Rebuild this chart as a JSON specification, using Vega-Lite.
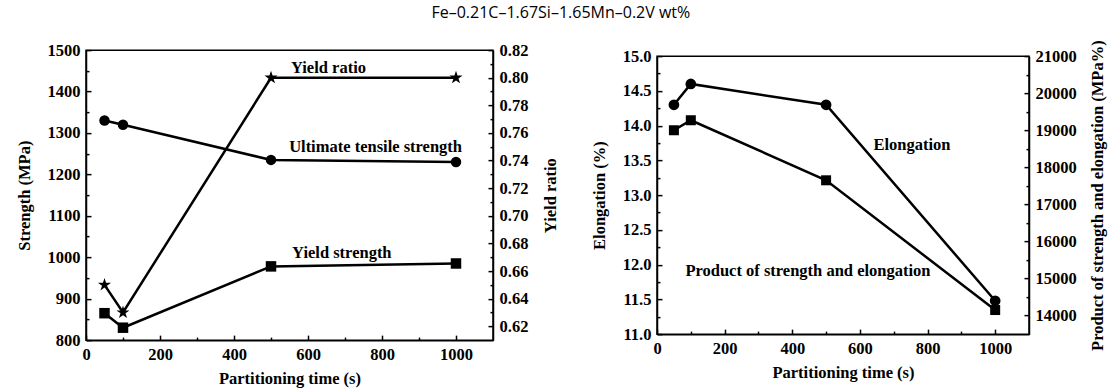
{
  "$schema": "https://vega.github.io/schema/vega-lite/v6.json",
  "title": {"text": "Fe–0.21C–1.67Si–1.65Mn–0.2V wt%", "font": "Open Sans", "fontSize": 16, "fontWeight": "normal", "color": "black", "anchor": "middle", "offset": 18},
  "padding": {"left": 15, "top": 5, "right": 2, "bottom": 0},
  "background": "white",
  "config": {
    "view": {"stroke": "black", "strokeWidth": 1.5},
    "axis": {
      "grid": false,
      "labelFont": "Liberation Serif", "labelFontWeight": "bold", "labelFontSize": 16.5, "labelColor": "black",
      "titleFont": "Liberation Serif", "titleFontWeight": "bold", "titleFontSize": 16.5, "titleColor": "black",
      "domainColor": "black", "domainWidth": 1.5, "tickColor": "black", "tickWidth": 1.5,
      "tickSize": -5, "labelPadding": 11, "labelFlush": false, "labelOverlap": false
    }
  },
  "datasets": {
    "strength": [
      {"time": 50, "value": 1330, "series": "Ultimate tensile strength"},
      {"time": 100, "value": 1320, "series": "Ultimate tensile strength"},
      {"time": 500, "value": 1235, "series": "Ultimate tensile strength"},
      {"time": 1000, "value": 1230, "series": "Ultimate tensile strength"},
      {"time": 50, "value": 865, "series": "Yield strength"},
      {"time": 100, "value": 830, "series": "Yield strength"},
      {"time": 500, "value": 978, "series": "Yield strength"},
      {"time": 1000, "value": 985, "series": "Yield strength"}
    ],
    "ratio": [
      {"time": 50, "ratio": 0.650},
      {"time": 100, "ratio": 0.630},
      {"time": 500, "ratio": 0.800},
      {"time": 1000, "ratio": 0.800}
    ],
    "labelsL": [
      {"x": 554, "y": 1457, "label": "Yield ratio"},
      {"x": 549, "y": 1267, "label": "Ultimate tensile strength"},
      {"x": 557, "y": 1011, "label": "Yield strength"}
    ],
    "elong": [
      {"time": 50, "elong": 14.3},
      {"time": 100, "elong": 14.6},
      {"time": 500, "elong": 14.3},
      {"time": 1000, "elong": 11.48}
    ],
    "pse": [
      {"time": 50, "pse": 19000},
      {"time": 100, "pse": 19270},
      {"time": 500, "pse": 17650},
      {"time": 1000, "pse": 14150}
    ],
    "labelsR": [
      {"x": 640, "y": 13.72, "label": "Elongation"},
      {"x": 84, "y": 11.91, "label": "Product of strength and elongation"}
    ]
  },
  "hconcat": [
    {
      "width": 407,
      "height": 290,
      "layer": [
        {
          "layer": [
            {
              "data": {"name": "strength"},
              "mark": {"type": "line", "color": "black", "strokeWidth": 2.5},
              "encoding": {
                "x": {"field": "time", "type": "quantitative", "scale": {"domain": [0, 1100], "nice": false, "zero": false}, "axis": {"orient": "bottom", "values": [0, 200, 400, 600, 800, 1000], "title": "Partitioning time (s)", "titlePadding": 8, "format": "d"}},
                "y": {"field": "value", "type": "quantitative", "scale": {"domain": [800, 1500], "nice": false, "zero": false}, "axis": {"orient": "left", "values": [800, 900, 1000, 1100, 1200, 1300, 1400, 1500], "title": "Strength (MPa)", "format": "d", "titlePadding": 15}},
                "detail": {"field": "series"}
              }
            },
            {
              "data": {"name": "strength"},
              "mark": {"type": "point", "filled": true, "color": "black", "opacity": 1},
              "encoding": {
                "x": {"field": "time", "type": "quantitative", "axis": {"orient": "bottom", "values": [0, 200, 400, 600, 800, 1000], "title": "Partitioning time (s)", "titlePadding": 8, "format": "d"}},
                "y": {"field": "value", "type": "quantitative", "axis": {"orient": "left", "values": [850, 950, 1050, 1150, 1250, 1350, 1450], "labels": false, "title": null, "domain": false, "tickSize": -3}},
                "shape": {"field": "series", "type": "nominal", "scale": {"domain": ["Ultimate tensile strength", "Yield strength"], "range": ["circle", "square"]}, "legend": null},
                "size": {"value": 110}
              }
            },
            {
              "data": {"name": "labelsL"},
              "mark": {"type": "text", "align": "left", "baseline": "middle", "font": "Liberation Serif", "fontWeight": "bold", "fontSize": 16.5, "color": "black"},
              "encoding": {
                "x": {"field": "x", "type": "quantitative", "axis": {"orient": "bottom", "values": [0, 200, 400, 600, 800, 1000], "title": "Partitioning time (s)", "titlePadding": 8, "format": "d"}},
                "y": {"field": "y", "type": "quantitative", "axis": null},
                "text": {"field": "label"}
              }
            }
          ],
          "resolve": {"axis": {"y": "independent"}}
        },
        {
          "layer": [
            {
              "data": {"name": "ratio"},
              "mark": {"type": "line", "color": "black", "strokeWidth": 2.5},
              "encoding": {
                "x": {"field": "time", "type": "quantitative", "axis": {"orient": "bottom", "values": [100, 300, 500, 700, 900], "labels": false, "title": null, "domain": false, "tickSize": -3}},
                "y": {"field": "ratio", "type": "quantitative", "scale": {"domain": [0.61, 0.82], "nice": false, "zero": false}, "axis": {"orient": "right", "values": [0.62, 0.64, 0.66, 0.68, 0.70, 0.72, 0.74, 0.76, 0.78, 0.80, 0.82], "title": "Yield ratio", "titleAngle": 270, "titleBaseline": "top", "format": ".2f", "titlePadding": 15}}
              }
            },
            {
              "data": {"name": "ratio"},
              "mark": {"type": "point", "filled": true, "color": "black", "opacity": 1, "shape": "M0,-1L0.2245,-0.309L0.951,-0.309L0.363,0.118L0.588,0.809L0,0.382L-0.588,0.809L-0.363,0.118L-0.951,-0.309L-0.2245,-0.309Z"},
              "encoding": {
                "x": {"field": "time", "type": "quantitative", "axis": {"orient": "bottom", "values": [100, 300, 500, 700, 900], "labels": false, "title": null, "domain": false, "tickSize": -3}},
                "y": {"field": "ratio", "type": "quantitative", "axis": {"orient": "right", "values": [0.63, 0.65, 0.67, 0.69, 0.71, 0.73, 0.75, 0.77, 0.79, 0.81], "labels": false, "title": null, "domain": false, "tickSize": -3}},
                "size": {"value": 190}
              }
            }
          ],
          "resolve": {"axis": {"y": "independent"}}
        }
      ],
      "resolve": {"scale": {"y": "independent"}, "axis": {"x": "independent"}}
    },
    {
      "width": 372,
      "height": 278,
      "layer": [
        {
          "layer": [
            {
              "data": {"name": "elong"},
              "mark": {"type": "line", "color": "black", "strokeWidth": 2.5},
              "encoding": {
                "x": {"field": "time", "type": "quantitative", "scale": {"domain": [0, 1100], "nice": false, "zero": false}, "axis": {"orient": "bottom", "values": [0, 200, 400, 600, 800, 1000], "title": "Partitioning time (s)", "titlePadding": 8, "format": "d"}},
                "y": {"field": "elong", "type": "quantitative", "scale": {"domain": [11, 15], "nice": false, "zero": false}, "axis": {"orient": "left", "values": [11, 11.5, 12, 12.5, 13, 13.5, 14, 14.5, 15], "title": "Elongation (%)", "format": ".1f", "titlePadding": 15}}
              }
            },
            {
              "data": {"name": "elong"},
              "mark": {"type": "point", "filled": true, "color": "black", "opacity": 1, "shape": "circle"},
              "encoding": {
                "x": {"field": "time", "type": "quantitative", "axis": {"orient": "bottom", "values": [0, 200, 400, 600, 800, 1000], "title": "Partitioning time (s)", "titlePadding": 8, "format": "d"}},
                "y": {"field": "elong", "type": "quantitative", "axis": {"orient": "left", "values": [11.25, 11.75, 12.25, 12.75, 13.25, 13.75, 14.25, 14.75], "labels": false, "title": null, "domain": false, "tickSize": -3}},
                "size": {"value": 115}
              }
            },
            {
              "data": {"name": "labelsR"},
              "mark": {"type": "text", "align": "left", "baseline": "middle", "font": "Liberation Serif", "fontWeight": "bold", "fontSize": 16.5, "color": "black"},
              "encoding": {
                "x": {"field": "x", "type": "quantitative", "axis": {"orient": "bottom", "values": [0, 200, 400, 600, 800, 1000], "title": "Partitioning time (s)", "titlePadding": 8, "format": "d"}},
                "y": {"field": "y", "type": "quantitative", "axis": null},
                "text": {"field": "label"}
              }
            }
          ],
          "resolve": {"axis": {"y": "independent"}}
        },
        {
          "layer": [
            {
              "data": {"name": "pse"},
              "mark": {"type": "line", "color": "black", "strokeWidth": 2.5},
              "encoding": {
                "x": {"field": "time", "type": "quantitative", "axis": {"orient": "bottom", "values": [100, 300, 500, 700, 900], "labels": false, "title": null, "domain": false, "tickSize": -3}},
                "y": {"field": "pse", "type": "quantitative", "scale": {"domain": [13500, 21000], "nice": false, "zero": false}, "axis": {"orient": "right", "values": [14000, 15000, 16000, 17000, 18000, 19000, 20000, 21000], "title": "Product of strength and elongation (MPa%)", "titleAngle": 270, "titleBaseline": "top", "format": "d", "titlePadding": 13}}
              }
            },
            {
              "data": {"name": "pse"},
              "mark": {"type": "point", "filled": true, "color": "black", "opacity": 1, "shape": "square"},
              "encoding": {
                "x": {"field": "time", "type": "quantitative", "axis": {"orient": "bottom", "values": [100, 300, 500, 700, 900], "labels": false, "title": null, "domain": false, "tickSize": -3}},
                "y": {"field": "pse", "type": "quantitative", "axis": {"orient": "right", "values": [14500, 15500, 16500, 17500, 18500, 19500, 20500], "labels": false, "title": null, "domain": false, "tickSize": -3}},
                "size": {"value": 100}
              }
            }
          ],
          "resolve": {"axis": {"y": "independent"}}
        }
      ],
      "resolve": {"scale": {"y": "independent"}, "axis": {"x": "independent"}}
    }
  ],
  "spacing": 29,
  "center": true
}
